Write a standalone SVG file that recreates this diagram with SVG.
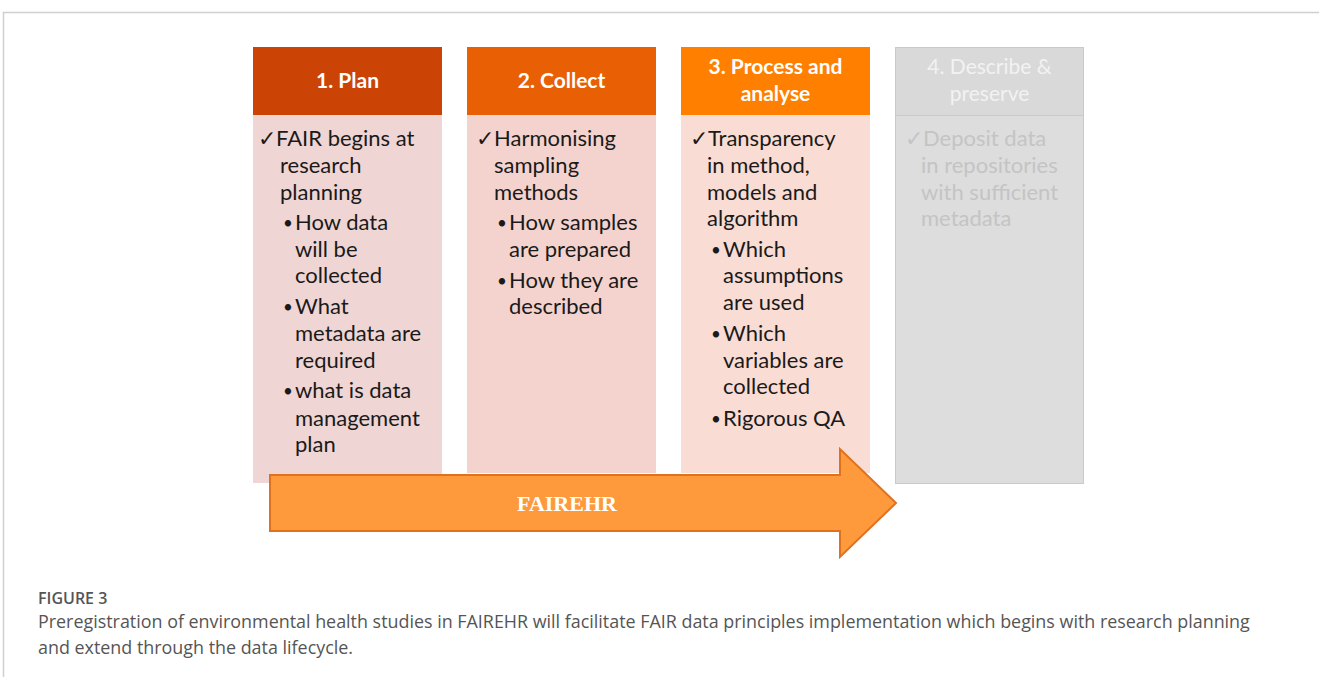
<svg xmlns="http://www.w3.org/2000/svg" width="1319" height="677" viewBox="0 0 1319 677">
<style>
.hd{font-family:Lato,"Liberation Sans",sans-serif;font-weight:bold;font-size:21px;fill:#fff;text-anchor:middle}
.tx{font-family:Lato,"Liberation Sans",sans-serif;font-size:22px;fill:#1a1a1a}
.b{font-size:17px}
.g4{fill:#c4c4c4}
.cap{font-family:"Open Sans","Liberation Sans",sans-serif;fill:#555}
</style>
<rect width="1319" height="677" fill="#fff"/>
<path d="M3.5 677V12.5H1319" fill="none" stroke="#d0d0d0" stroke-width="1.5"/>
<g id="col1">
<rect x="253" y="115" width="189" height="368" fill="#EFD5D3"/>
<rect x="253" y="47" width="189" height="68" fill="#CB4406"/>
<text class="hd" x="347.5" y="88">1. Plan</text>
<text class="tx"><tspan x="258" y="146">✓FAIR begins at</tspan><tspan x="280" y="173">research</tspan><tspan x="280" y="200">planning</tspan><tspan class="b" x="283" y="229">•</tspan><tspan x="295" y="230">How data</tspan><tspan x="295" y="257">will be</tspan><tspan x="295" y="283">collected</tspan><tspan class="b" x="283" y="313">•</tspan><tspan x="295" y="314">What</tspan><tspan x="295" y="341">metadata are</tspan><tspan x="295" y="368">required</tspan><tspan class="b" x="283" y="397">•</tspan><tspan x="295" y="398">what is data</tspan><tspan x="295" y="426">management</tspan><tspan x="295" y="452">plan</tspan></text>
</g>
<g id="col2">
<rect x="467" y="115" width="189" height="358" fill="#F4D3CE"/>
<rect x="467" y="47" width="189" height="68" fill="#E85F04"/>
<text class="hd" x="561.5" y="88">2. Collect</text>
<text class="tx"><tspan x="476" y="146">✓Harmonising</tspan><tspan x="494" y="173">sampling</tspan><tspan x="494" y="200">methods</tspan><tspan class="b" x="497" y="229">•</tspan><tspan x="509" y="230">How samples</tspan><tspan x="509" y="257">are prepared</tspan><tspan class="b" x="497" y="287">•</tspan><tspan x="509" y="288">How they are</tspan><tspan x="509" y="314">described</tspan></text>
</g>
<g id="col3">
<rect x="681" y="115" width="189" height="358" fill="#F9DCD3"/>
<rect x="681" y="47" width="189" height="68" fill="#FF7F00"/>
<text class="hd" x="775.5" y="74">3. Process and</text>
<text class="hd" x="775.5" y="101">analyse</text>
<text class="tx"><tspan x="690" y="146">✓Transparency</tspan><tspan x="707" y="173">in method,</tspan><tspan x="707" y="200">models and</tspan><tspan x="707" y="226">algorithm</tspan><tspan class="b" x="711" y="256">•</tspan><tspan x="723" y="257">Which</tspan><tspan x="723" y="283">assumptions</tspan><tspan x="723" y="310">are used</tspan><tspan class="b" x="711" y="340">•</tspan><tspan x="723" y="341">Which</tspan><tspan x="723" y="368">variables are</tspan><tspan x="723" y="394">collected</tspan><tspan class="b" x="711" y="425">•</tspan><tspan x="723" y="426">Rigorous QA</tspan></text>
</g>
<g id="col4">
<rect x="895.5" y="115.5" width="188" height="368" fill="#DDDDDD" stroke="#CACACA"/>
<rect x="895.5" y="47.5" width="188" height="68" fill="#D9D9D9" stroke="#CACACA"/>
<text class="hd" x="989.5" y="74" style="font-weight:normal;fill:#F2F2F2">4. Describe &amp;</text>
<text class="hd" x="989.5" y="101" style="font-weight:normal;fill:#F2F2F2">preserve</text>
<text class="tx g4"><tspan x="905" y="146">✓Deposit data</tspan><tspan x="921" y="173">in repositories</tspan><tspan x="921" y="200">with sufficient</tspan><tspan x="921" y="226">metadata</tspan></text>
</g>
<g id="connectors">
<g id="arrow">
<path d="M270 475H840V449L896 503L840 557V531H270Z" fill="#FF9A3C" stroke="#E0711F" stroke-width="2" stroke-linejoin="miter"/>
<text x="567" y="511" text-anchor="middle" style="font-family:'Liberation Serif',serif;font-weight:bold;font-size:22px;fill:#fff">FAIREHR</text>
</g>
</g>
<g id="caption">
<text class="cap" x="38" y="604" style="font-size:16px;font-weight:600">FIGURE 3</text>
<text class="cap" x="38" y="628" style="font-size:17.9px">Preregistration of environmental health studies in FAIREHR will facilitate FAIR data principles implementation which begins with research planning</text>
<text class="cap" x="38" y="654" style="font-size:17.9px">and extend through the data lifecycle.</text>
</g>
</svg>
